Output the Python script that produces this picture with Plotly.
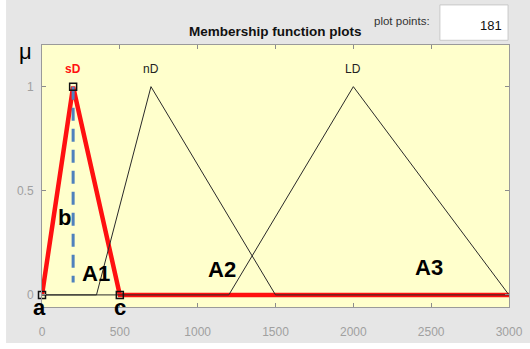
import plotly.graph_objects as go

# universe of discourse and triangular membership functions [a, b, c]
x_min, x_max = 0, 3000
y_min, y_max = -0.058, 1.2
sd_params = [0, 200, 500]
nd_params = [350, 700, 1500]
ld_params = [1200, 2000, 3000]
mf_names = ["sD", "nD", "LD"]
label_level = 1.085

# dashed line marking the sD peak
peak_dash_top = 1.0
peak_dash_bottom = 0.06

x_ticks = [0, 500, 1000, 1500, 2000, 2500, 3000]
y_ticks = [0, 0.5, 1]
plot_points = "181"

# hand-written labels on the figure: text, x, y
notes = [("a", 0, -0.062), ("b", 142, 0.37), ("c", 502, -0.062),
         ("A1", 348, 0.103), ("A2", 1158, 0.12), ("A3", 2488, 0.132)]


def tri(p):
    # polyline over the whole domain for a triangle mf
    return [x_min, p[0], p[1], p[2], x_max], [0, 0, 1, 0, 0]


fig = go.Figure()

# selected mf (sD) in thick red, drawn first so the others sit on top
sx, sy = tri(sd_params)
fig.add_trace(go.Scatter(x=sx, y=sy, mode="lines",
                         line=dict(color="#ff1010", width=4.5), hoverinfo="skip"))
for p in (nd_params, ld_params):
    px, py = tri(p)
    fig.add_trace(go.Scatter(x=px, y=py, mode="lines",
                             line=dict(color="#2a2a2a", width=1), hoverinfo="skip"))

# dashed blue at the sD peak
fig.add_trace(go.Scatter(x=[sd_params[1], sd_params[1]], y=[peak_dash_top, peak_dash_bottom],
                         mode="lines", line=dict(color="#4f81bd", width=3, dash="13px,8px"),
                         hoverinfo="skip"))
# vertex markers of the selected mf
fig.add_trace(go.Scatter(x=sd_params, y=[0, 1, 0], mode="markers",
                         marker=dict(symbol="square-open", size=7, color="#111",
                                     line=dict(width=1.5)),
                         cliponaxis=False, hoverinfo="skip"))

# mf names above the peaks
for name, p in zip(mf_names, (sd_params, nd_params, ld_params)):
    sel = name == "sD"
    fig.add_annotation(x=p[1], y=label_level, text=f"<b>{name}</b>" if sel else name,
                       showarrow=False, yanchor="middle",
                       font=dict(size=12, color="#ff1010" if sel else "#222",
                                 family="Liberation Sans"))

for txt, nx, ny in notes:
    # vertical position in axis-domain units so labels below the range still show
    fig.add_annotation(x=nx, y=(ny - y_min) / (y_max - y_min), yref="y domain",
                       text=f"<b>{txt}</b>", showarrow=False, yanchor="middle",
                       xshift=-3 if txt == "a" else 0,
                       font=dict(size=22, color="black", family="Liberation Sans"))

# window furniture
fig.add_annotation(xref="paper", yref="paper", x=0.501, y=1.053,
                   xanchor="center", yanchor="middle",
                   text="<b>Membership function plots</b>", showarrow=False,
                   font=dict(size=13.5, color="#111", family="Liberation Sans"))
fig.add_annotation(xref="paper", yref="paper", x=0.835, y=1.092,
                   xanchor="right", yanchor="middle",
                   text="plot points:", showarrow=False,
                   font=dict(size=11.5, color="#333", family="Liberation Sans"))
fig.add_shape(type="rect", xref="paper", yref="paper", x0=0.852, x1=0.998, y0=1.018, y1=1.153,
              fillcolor="white", line=dict(color="#c8c8c8", width=1))
fig.add_annotation(xref="paper", yref="paper", x=0.99, y=1.076, xanchor="right",
                   yanchor="middle", text=plot_points, showarrow=False,
                   font=dict(size=13, color="#111", family="Liberation Sans"))
fig.add_annotation(xref="paper", yref="paper", x=-0.036, y=0.975,
                   xanchor="center", yanchor="middle",
                   text="μ", showarrow=False,
                   font=dict(size=22, color="black", family="Liberation Sans"))

# white border strips of the screenshot
fig.add_shape(type="rect", xref="paper", yref="paper", x0=-0.2, x1=-0.077, y0=-0.3, y1=1.3,
              fillcolor="white", line_width=0, layer="below")
fig.add_shape(type="rect", xref="paper", yref="paper", x0=-0.2, x1=1.2, y0=-0.3, y1=-0.137,
              fillcolor="white", line_width=0, layer="below")

fig.update_xaxes(range=[x_min, x_max], tickvals=x_ticks, ticks="inside", ticklen=4,
                 tickcolor="#8c8c8c", showline=True, linecolor="#9a9a9a", mirror="ticks",
                 showgrid=False, zeroline=False, ticklabelstandoff=14, automargin=False,
                 tickfont=dict(size=12, color="#a0a0a0", family="Liberation Sans"))
fig.update_yaxes(range=[y_min, y_max], tickvals=y_ticks, ticktext=["0", "0.5", "1"],
                 ticks="inside", ticklen=4, tickcolor="#8c8c8c", showline=True,
                 linecolor="#9a9a9a", mirror="ticks", showgrid=False, zeroline=False,
                 ticklabelstandoff=5, automargin=False,
                 tickfont=dict(size=12, color="#a0a0a0", family="Liberation Sans"))

fig.update_layout(width=530, height=349, showlegend=False,
                  margin=dict(l=42, r=21, t=45, b=42),
                  paper_bgcolor="#e6e6e6", plot_bgcolor="#ffffcc")

# drop the page's default body margin so the figure sits at the window corner
fig.write_html("out.html", config={"displayModeBar": False},
               post_script="document.body.style.margin='0';")
